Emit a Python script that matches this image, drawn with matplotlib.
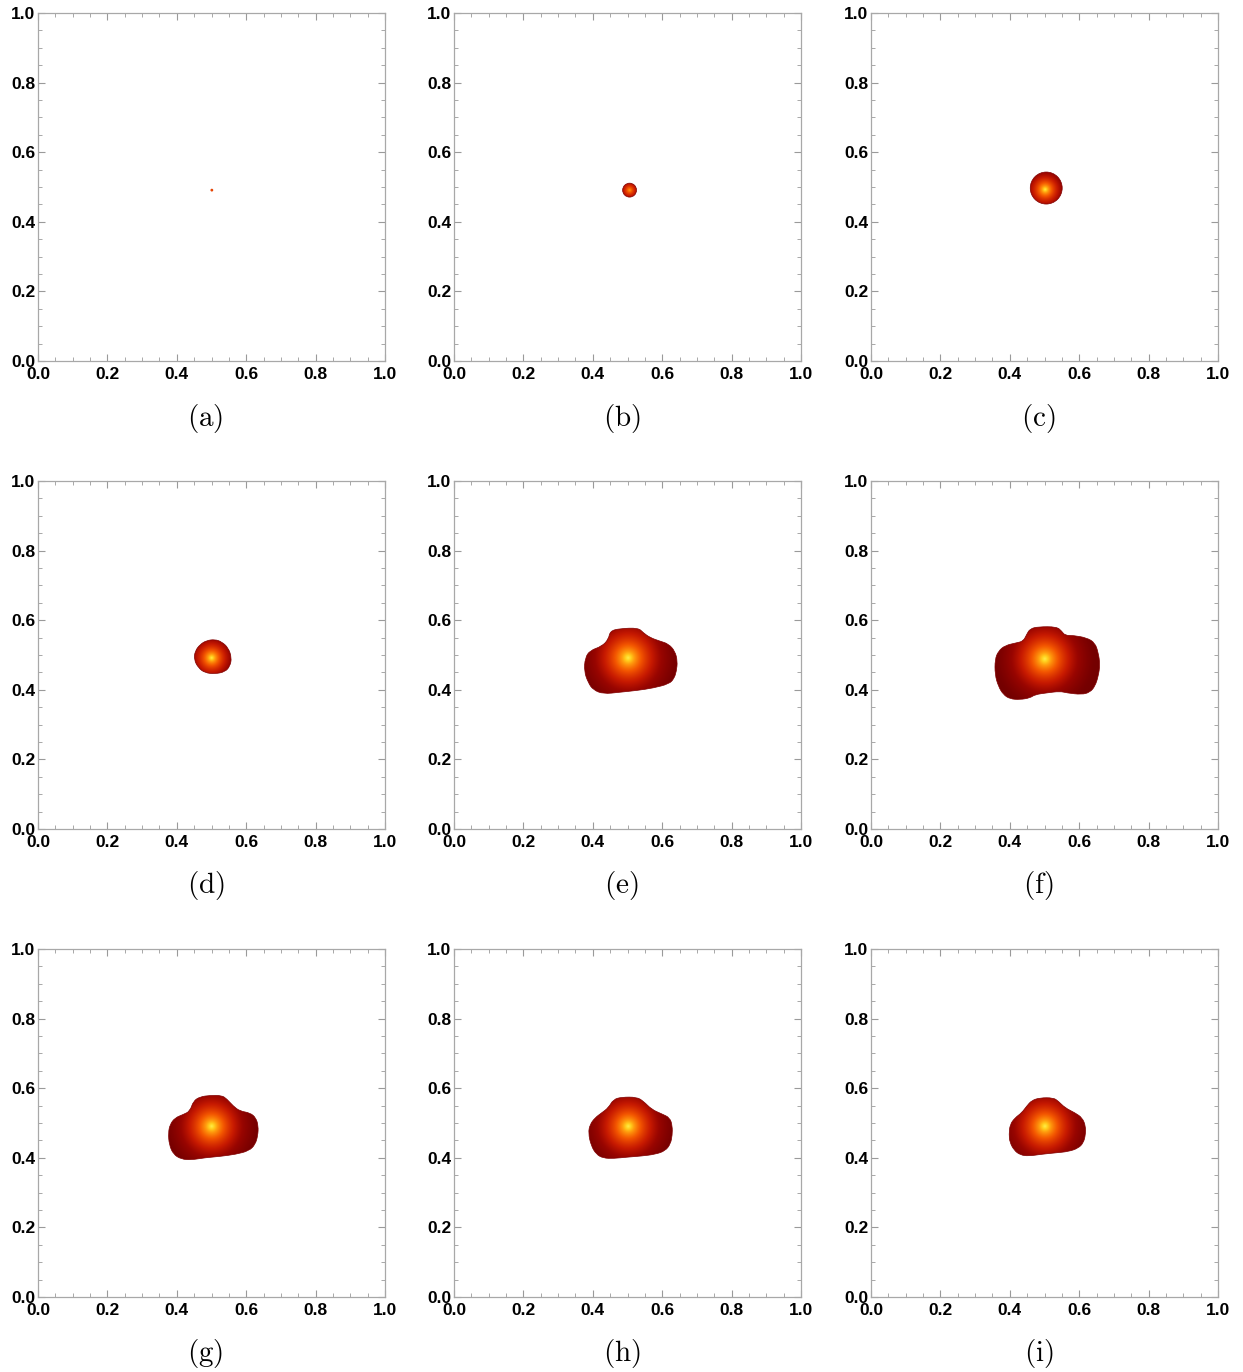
import numpy as np
import matplotlib.pyplot as plt
from matplotlib.path import Path
from matplotlib.patches import PathPatch, Circle
from matplotlib.colors import LinearSegmentedColormap
from matplotlib.ticker import MultipleLocator

plt.rcParams['mathtext.fontset'] = 'cm'

labels = ['(a)', '(b)', '(c)', '(d)', '(e)', '(f)', '(g)', '(h)', '(i)']

# hottest point of each blob, its peak level and decay length
hot_x = [0.501, 0.506, 0.502, 0.5005, 0.502, 0.501, 0.5005, 0.5024, 0.5014]
hot_y = [0.491, 0.491, 0.493, 0.4919, 0.492, 0.489, 0.4908, 0.4908, 0.4908]
peak = [0.62, 0.80, 1.0, 1.0, 1.0, 1.0, 1.0, 1.0, 1.0]
decay = [0.020, 0.024, 0.038, 0.043, 0.075, 0.075, 0.070, 0.070, 0.070]

# early, still round fronts (a)-(c)
round_x = [0.501, 0.506, 0.505]
round_y = [0.491, 0.491, 0.497]
round_r = [0.004, 0.020, 0.046]

# outlines of the later fronts
d_x = [0.4669, 0.4861, 0.5101, 0.5293, 0.5485, 0.5581, 0.5533, 0.5389, 0.5101, 0.4813, 0.4620, 0.4496, 0.4525]
d_y = [0.5303, 0.5418, 0.5447, 0.5380, 0.5207, 0.4919, 0.4678, 0.4515, 0.4458, 0.4487, 0.4630, 0.4870, 0.5110]

e_x = [0.450, 0.478, 0.531, 0.5456, 0.565, 0.5937, 0.618, 0.637, 0.644, 0.641, 0.634, 0.620, 0.574, 0.527,
       0.478, 0.430, 0.401, 0.387, 0.375, 0.378, 0.392, 0.426, 0.445]
e_y = [0.569, 0.576, 0.578, 0.5639, 0.550, 0.5398, 0.532, 0.511, 0.482, 0.453, 0.432, 0.417, 0.405, 0.398,
       0.393, 0.388, 0.400, 0.420, 0.453, 0.492, 0.513, 0.525, 0.545]

f_x = [0.4486, 0.4582, 0.4822, 0.5350, 0.5495, 0.5591, 0.5831, 0.6215, 0.6455, 0.6551, 0.6599, 0.6551,
       0.6455, 0.6311, 0.6071, 0.5639, 0.5447, 0.5063, 0.4726, 0.4582, 0.4294, 0.4006, 0.3813, 0.3669,
       0.3573, 0.3573, 0.3669, 0.3862, 0.4198, 0.4389]
f_y = [0.5591, 0.5754, 0.5812, 0.5812, 0.5687, 0.5562, 0.5562, 0.5495, 0.5351, 0.5063, 0.4726, 0.4389,
       0.4101, 0.3929, 0.3862, 0.3911, 0.3957, 0.3911, 0.3862, 0.3766, 0.3718, 0.3737, 0.3862, 0.4101,
       0.4438, 0.4870, 0.5110, 0.5274, 0.5351, 0.5398]

g_x = [0.4476, 0.4669, 0.4957, 0.5293, 0.5437, 0.5629, 0.5821, 0.6110, 0.6282, 0.6349, 0.6335, 0.6260,
       0.6080, 0.5700, 0.5250, 0.4800, 0.4420, 0.4130, 0.3900, 0.3780, 0.3756, 0.3804, 0.3948, 0.4188, 0.4380]
g_y = [0.5629, 0.5754, 0.5793, 0.5793, 0.5696, 0.5485, 0.5341, 0.5293, 0.5149, 0.4908, 0.4640, 0.4380,
       0.4200, 0.4100, 0.4040, 0.4000, 0.3940, 0.3960, 0.4100, 0.4380, 0.4716, 0.4957, 0.5149, 0.5245, 0.5341]

h_x = [0.4448, 0.4592, 0.4832, 0.5265, 0.5457, 0.5697, 0.5985, 0.6225, 0.6292, 0.6290, 0.6240, 0.6090,
       0.5800, 0.5400, 0.5000, 0.4600, 0.4300, 0.4100, 0.3950, 0.3871, 0.3919, 0.4063, 0.4256]
h_y = [0.5437, 0.5677, 0.5744, 0.5744, 0.5629, 0.5389, 0.5264, 0.5149, 0.4908, 0.4650, 0.4400, 0.4200,
       0.4100, 0.4050, 0.4020, 0.3980, 0.3990, 0.4100, 0.4350, 0.4716, 0.4957, 0.5149, 0.5293]

i_x = [0.4486, 0.4630, 0.4870, 0.5254, 0.5398, 0.5591, 0.5879, 0.6090, 0.6186, 0.6180, 0.6120, 0.5980,
       0.5700, 0.5300, 0.4900, 0.4550, 0.4300, 0.4120, 0.4000, 0.3977, 0.4006, 0.4150, 0.4342]
i_y = [0.5485, 0.5648, 0.5725, 0.5725, 0.5629, 0.5437, 0.5293, 0.5149, 0.4908, 0.4650, 0.4430, 0.4280,
       0.4180, 0.4140, 0.4100, 0.4050, 0.4080, 0.4220, 0.4450, 0.4669, 0.4957, 0.5149, 0.5293]

outlines = [None, None, None, (d_x, d_y), (e_x, e_y), (f_x, f_y), (g_x, g_y), (h_x, h_y), (i_x, i_y)]

fire = LinearSegmentedColormap.from_list('fire', [
    (0.00, (0.42, 0.00, 0.00)),
    (0.15, (0.46, 0.00, 0.00)),
    (0.28, (0.60, 0.02, 0.00)),
    (0.40, (0.78, 0.10, 0.00)),
    (0.60, (0.95, 0.33, 0.00)),
    (0.78, (1.00, 0.60, 0.05)),
    (0.90, (1.00, 0.82, 0.12)),
    (1.00, (1.00, 0.93, 0.30)),
])
rim = (0.50, 0.0, 0.0)


def smooth_path(xs, ys):
    # closed quadratic curve through the midpoints of the outline
    pts = np.column_stack([xs, ys])
    mids = (pts + np.roll(pts, -1, axis=0)) / 2
    verts = [mids[-1]]
    codes = [Path.MOVETO]
    for k in range(len(pts)):
        verts += [pts[k], mids[k]]
        codes += [Path.CURVE3, Path.CURVE3]
    return Path(verts, codes)


W, H = 1243, 1372
fig = plt.figure(figsize=(W / 100, H / 100), dpi=100)
lefts = [38, 454, 871]
bottoms = [361, 829, 1297]

g = np.linspace(0.3, 0.7, 801)
X, Y = np.meshgrid(g, g)

for n in range(9):
    row, col = divmod(n, 3)
    ax = fig.add_axes([lefts[col] / W, 1 - bottoms[row] / H, 347 / W, 348 / H])

    r = np.hypot(X - hot_x[n], Y - hot_y[n])
    field = peak[n] * np.exp(-r / decay[n])
    im = ax.imshow(field, extent=(0.3, 0.7, 0.3, 0.7), origin='lower', cmap=fire,
                   vmin=0, vmax=1, interpolation='bilinear')
    if outlines[n] is None:
        clip = Circle((round_x[n], round_y[n]), round_r[n], transform=ax.transData)
        edge = Circle((round_x[n], round_y[n]), round_r[n], fill=False, ec=rim, lw=0.5)
    else:
        clip = PathPatch(smooth_path(*outlines[n]), transform=ax.transData)
        edge = PathPatch(smooth_path(*outlines[n]), fill=False, ec=rim, lw=0.5)
    im.set_clip_path(clip)
    if n > 0:
        ax.add_patch(edge)

    ax.set_xlim(0, 1)
    ax.set_ylim(0, 1)
    ax.set_aspect('auto')
    ax.xaxis.set_major_locator(MultipleLocator(0.2))
    ax.yaxis.set_major_locator(MultipleLocator(0.2))
    ax.xaxis.set_minor_locator(MultipleLocator(0.05))
    ax.yaxis.set_minor_locator(MultipleLocator(0.05))
    ax.xaxis.set_major_formatter('{x:.1f}')
    ax.yaxis.set_major_formatter('{x:.1f}')
    ax.tick_params(which='both', direction='in', top=True, right=True, color='#9a9a9a')
    ax.tick_params(axis='x', pad=4)
    ax.tick_params(axis='y', pad=2)
    ax.tick_params(which='major', length=5, width=0.8)
    ax.tick_params(which='minor', length=3, width=0.6)
    for t in ax.get_xticklabels() + ax.get_yticklabels():
        t.set_fontfamily('Liberation Sans')
        t.set_fontweight('bold')
        t.set_fontsize(12.5)
    for sp in ax.spines.values():
        sp.set_color('#a8a8a8')
        sp.set_linewidth(0.9)

    fig.text((lefts[col] + 347 / 2 - 6) / W, 1 - (bottoms[row] + 57) / H,
             r'$\mathrm{' + labels[n] + '}$', ha='center', va='center', fontsize=21)

fig.savefig('out.png', dpi=100)
